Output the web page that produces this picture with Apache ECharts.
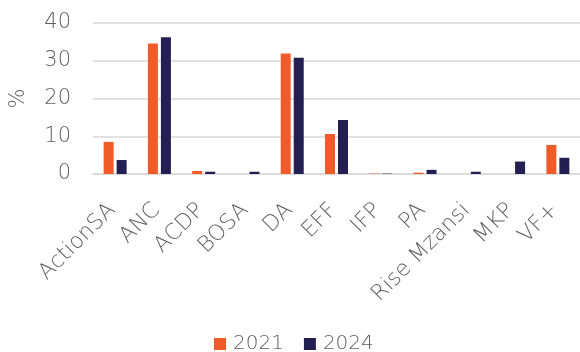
<!DOCTYPE html>
<html>
<head>
<meta charset="utf-8">
<script src="https://cdn.jsdelivr.net/npm/echarts@6/dist/echarts.min.js"></script>
<style>
  html, body { margin: 0; padding: 0; background: #fff; }
  #chart { width: 580px; height: 352px; }
</style>
</head>
<body>
<div id="chart"></div>
<script>
const parties = ["ActionSA", "ANC", "ACDP", "BOSA", "DA", "EFF", "IFP", "PA", "Rise Mzansi", "MKP", "VF+"];
const share2021 = [8.5, 34.6, 0.8, 0, 31.9, 10.6, 0.1, 0.35, 0, 0, 7.7];
const share2024 = [3.7, 36.2, 0.6, 0.6, 30.8, 14.3, 0.1, 1.1, 0.6, 3.3, 4.3];
const yTicks = [0, 10, 20, 30, 40];

const ORANGE = "#f15a29";
const NAVY = "#231f52";
const TEXT = "#5f5f5f";
const GRID = "#d9d9d9";
const FONT = "DejaVu Sans";
const WEIGHT = 200;

const chart = echarts.init(document.getElementById("chart"), null, { renderer: "canvas" });

chart.setOption({
  animation: false,
  textStyle: { fontFamily: FONT, color: TEXT, fontWeight: WEIGHT },
  grid: { left: 92, right: 0, top: 23, bottom: 178 },
  legend: {
    top: 329,
    left: 209,
    itemWidth: 12,
    itemHeight: 12,
    itemGap: 20,
    icon: "rect",
    textStyle: { fontFamily: FONT, fontWeight: WEIGHT, color: TEXT, fontSize: 20, padding: [0, 0, 0, 2] },
    data: ["2021", "2024"],
  },
  xAxis: {
    type: "category",
    data: parties,
    axisTick: { show: false },
    axisLine: { lineStyle: { color: GRID, width: 1.5 } },
    axisLabel: {
      interval: 0,
      rotate: 45,
      margin: 30,
      padding: [0, 4, 0, 0],
      fontFamily: FONT,
      fontWeight: WEIGHT,
      fontSize: 22,
      color: TEXT,
    },
  },
  yAxis: {
    type: "value",
    min: yTicks[0],
    max: yTicks[yTicks.length - 1],
    interval: 10,
    name: "%",
    nameLocation: "middle",
    nameGap: 64,
    nameTextStyle: { fontFamily: FONT, fontWeight: WEIGHT, fontSize: 21, color: TEXT },
    axisLine: { show: false },
    axisTick: { show: false },
    axisLabel: { margin: 22, fontFamily: FONT, fontWeight: WEIGHT, fontSize: 21, color: TEXT },
    splitLine: { lineStyle: { color: GRID, width: 1.5 } },
  },
  series: [
    {
      name: "2021",
      type: "bar",
      data: share2021,
      barWidth: 10,
      barGap: "30%",
      itemStyle: { color: ORANGE },
    },
    {
      name: "2024",
      type: "bar",
      data: share2024,
      barWidth: 10,
      itemStyle: { color: NAVY },
    },
  ],
});
</script>
</body>
</html>
